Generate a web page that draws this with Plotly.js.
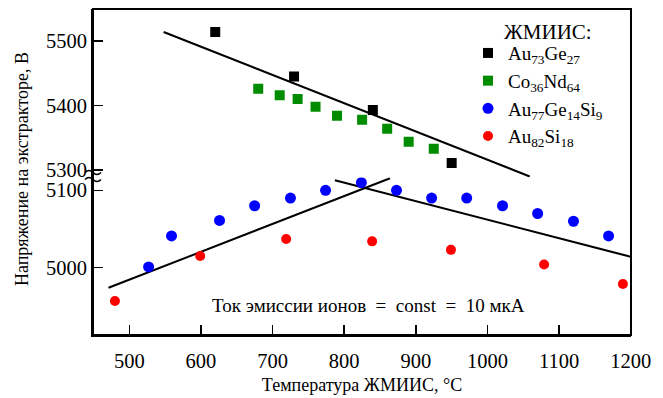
<!DOCTYPE html>
<html>
<head>
<meta charset="utf-8">
<script src="https://cdn.plot.ly/plotly-3.0.1.min.js"></script>
<style>html,body{margin:0;padding:0;background:#fff;}#chart{width:663px;height:398px;}</style>
</head>
<body>
<div id="chart"></div>
<script>
// Au73Ge27 (upper axis)
const auGeX = [620, 730, 840, 950];
const auGeY = [5514, 5445, 5393, 5311];
// Co36Nd64 (upper axis)
const coNdX = [680, 710, 735, 760, 790, 825, 860, 890, 925];
const coNdY = [5426, 5416, 5410, 5398, 5384, 5378, 5364, 5344, 5333];
// Au77Ge14Si9 (lower axis)
const auGeSiX = [527, 559, 626, 675, 725, 774, 824, 873, 922, 971, 1021, 1070, 1120, 1169];
const auGeSiY = [5001, 5041, 5061, 5080, 5090, 5100, 5110, 5100, 5090, 5090, 5080, 5070, 5060, 5041];
// Au82Si18 (lower axis)
const auSiX = [480, 599, 719, 839, 949, 1079, 1189];
const auSiY = [4957, 5015, 5037, 5034, 5023, 5004, 4979];
// Fit lines
const fitTopX = [548, 1059];
const fitTopY = [5514, 5290];
const fitUpX = [471, 864];
const fitUpY = [4974, 5115.5];
const fitDownX = [787, 1200];
const fitDownY = [5113, 5014];

const names = ['Au<sub>73</sub>Ge<sub>27</sub>', 'Co<sub>36</sub>Nd<sub>64</sub>',
               'Au<sub>77</sub>Ge<sub>14</sub>Si<sub>9</sub>', 'Au<sub>82</sub>Si<sub>18</sub>'];
const xTicks = [500, 600, 700, 800, 900, 1000, 1100, 1200];

const FONT = 'Liberation Serif, Times New Roman, serif';
const line = {color: '#000', width: 2};

const traces = [
  {x: fitTopX, y: fitTopY, yaxis: 'y2', mode: 'lines', line: line, showlegend: false, hoverinfo: 'skip'},
  {x: fitUpX, y: fitUpY, yaxis: 'y', mode: 'lines', line: line, showlegend: false, hoverinfo: 'skip'},
  {x: fitDownX, y: fitDownY, yaxis: 'y', mode: 'lines', line: line, showlegend: false, hoverinfo: 'skip'},
  {x: auGeX, y: auGeY, yaxis: 'y2', mode: 'markers', name: names[0],
   marker: {symbol: 'square', size: 10, color: '#000000'}},
  {x: coNdX, y: coNdY, yaxis: 'y2', mode: 'markers', name: names[1],
   marker: {symbol: 'square', size: 10, color: '#008c00'}},
  {x: auGeSiX, y: auGeSiY, yaxis: 'y', mode: 'markers', name: names[2],
   marker: {symbol: 'circle', size: 11, color: '#0000ff'}},
  {x: auSiX, y: auSiY, yaxis: 'y', mode: 'markers', name: names[3],
   marker: {symbol: 'circle', size: 10, color: '#ff0000'}}
];

const axBase = {
  showgrid: false, zeroline: false, showline: true, linecolor: '#000', linewidth: 2,
  mirror: false, ticks: 'inside', ticklen: 10, tickwidth: 1.5, tickcolor: '#000',
  tickfont: {family: FONT, size: 20.5, color: '#000'}
};

const NB = '\u00A0';
const noteText = 'Ток эмиссии ионов' + NB + NB + '=' + NB + NB + 'const' + NB + NB + '=' + NB + NB + '10 мкА';

const layout = {
  width: 663, height: 398,
  margin: {l: 93, r: 32, t: 9, b: 63},
  paper_bgcolor: '#fff', plot_bgcolor: '#fff',
  font: {family: FONT, color: '#000'},
  showlegend: true,
  legend: {
    x: 0.697, y: 0.923, xanchor: 'left', yanchor: 'top',
    bgcolor: 'rgba(0,0,0,0)', borderwidth: 0,
    font: {family: FONT, size: 19, color: '#000'}
  },
  xaxis: Object.assign({}, axBase, {
    range: [449.4, 1200.3], tickmode: 'array', tickvals: xTicks,
    ticktext: xTicks.map(String), ticklabelstandoff: 6,
    title: {text: 'Температура ЖМИИС, °C', font: {family: FONT, size: 18, color: '#000'}, standoff: 8}
  }),
  yaxis: Object.assign({}, axBase, {
    domain: [0, 0.4831], range: [4913, 5116.5], dtick: 100, tick0: 5000
  }),
  yaxis2: Object.assign({}, axBase, {
    domain: [0.4831, 1], range: [5288.4, 5549.6], dtick: 100, tick0: 5300, anchor: 'x'
  }),
  annotations: [
    {text: 'Напряжение на экстракторе, В', xref: 'paper', yref: 'paper',
     x: -0.132, y: 0.509, xanchor: 'center', yanchor: 'middle', textangle: -90, showarrow: false,
     font: {family: FONT, size: 18, color: '#000'}},
    {text: noteText, xref: 'paper', yref: 'paper',
     x: 0.512, y: 0.092, xanchor: 'center', yanchor: 'middle', showarrow: false,
     font: {family: FONT, size: 19, color: '#000'}},
    {text: 'ЖМИИС:', xref: 'paper', yref: 'paper',
     x: 0.846, y: 0.929, xanchor: 'center', yanchor: 'middle', showarrow: false,
     font: {family: FONT, size: 21, color: '#000'}}
  ],
  shapes: [
    {type: 'rect', xref: 'paper', yref: 'paper', x0: 0, x1: 1, y0: 0, y1: 1,
     line: {color: '#000', width: 2}, fillcolor: 'rgba(0,0,0,0)'},
    {type: 'path', xref: 'paper', yref: 'paper', xsizemode: 'pixel', ysizemode: 'pixel',
     xanchor: 0, yanchor: 0.4831,
     path: 'M -8,5 Q -4,9 0,5 T 8,5 M -8,-2 Q -4,2 0,-2 T 8,-2',
     line: {color: '#000', width: 1.5}}
  ]
};

Plotly.newPlot('chart', traces, layout, {displayModeBar: false, staticPlot: true});
</script>
</body>
</html>
